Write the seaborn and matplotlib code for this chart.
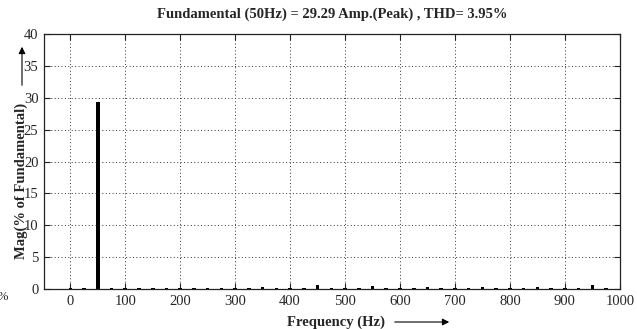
import matplotlib
matplotlib.use("Agg")
import matplotlib.pyplot as plt
import seaborn as sns
import pandas as pd

freqs = [0, 25, 50, 75, 100, 125, 150, 175, 200, 225, 250, 275, 300, 325, 350, 375,
         400, 425, 450, 475, 500, 525, 550, 575, 600, 625, 650, 675, 700, 725, 750,
         775, 800, 825, 850, 875, 900, 925, 950, 975]
mags = [0.1, 0.1, 29.29, 0.1, 0.1, 0.1, 0.1, 0.1, 0.1, 0.1, 0.15, 0.1, 0.1, 0.1, 0.35, 0.1,
        0.1, 0.1, 0.6, 0.1, 0.1, 0.1, 0.5, 0.1, 0.1, 0.1, 0.3, 0.15, 0.1, 0.1, 0.25,
        0.1, 0.1, 0.1, 0.25, 0.1, 0.1, 0.1, 0.55, 0.1]
xticks = [0, 100, 200, 300, 400, 500, 600, 700, 800, 900, 1000]
yticks = [0, 5, 10, 15, 20, 25, 30, 35, 40]
title = "Fundamental (50Hz) = 29.29 Amp.(Peak) , THD= 3.95%"

sns.set_theme(style="white")
plt.rcParams['font.family'] = ['Liberation Serif', 'DejaVu Serif']

df = pd.DataFrame({"freq": freqs, "mag": mags})
fig = plt.figure(figsize=(6.37, 3.29), dpi=100)
ax = fig.add_axes([0.069, 0.1216, 0.904, 0.775])
sns.barplot(data=df, x="freq", y="mag", native_scale=True, width=0.26,
            color="black", saturation=1, ax=ax, edgecolor="black", linewidth=0)
ax.set_xlim(-48, 1000)
ax.set_ylim(0, 40)
ax.set_xticks(xticks)
ax.set_yticks(yticks)
ax.set_xticklabels([str(t) for t in xticks], fontsize=10.5)
ax.set_yticklabels([str(t) for t in yticks], fontsize=10.5)
ax.grid(True, linestyle=(0, (1, 2.5)), color="#333333", linewidth=0.7)
ax.set_axisbelow(True)
ax.tick_params(direction="in", length=4, top=True, right=True, bottom=True, left=True,
               width=0.8, color="#222222", pad=4)
for s in ax.spines.values():
    s.set_color("#222222")
    s.set_linewidth(0.9)
ax.set_xlabel("")
ax.set_ylabel("")

fig.text(0.522, 0.957, title, ha="center", va="center", fontsize=10.5, fontweight="bold")
fig.text(0.527, 0.022, "Frequency (Hz)", ha="center", va="center", fontsize=10.5, fontweight="bold")
fig.text(0.034, 0.45, "Mag(% of Fundamental)", ha="center", va="center", rotation=90,
         fontsize=10.5, fontweight="bold")
fig.text(-0.004, 0.098, "%", ha="left", va="center", fontsize=9)
# arrows
fig.add_artist(matplotlib.patches.FancyArrowPatch((392/637, 1 - 322/329), (452/637, 1 - 322/329),
               transform=fig.transFigure, arrowstyle="-|>", mutation_scale=10, color="black", lw=0.8))
fig.add_artist(matplotlib.patches.FancyArrowPatch((22/637, 1 - 88/329), (22/637, 1 - 44/329),
               transform=fig.transFigure, arrowstyle="-|>", mutation_scale=10, color="black", lw=0.8))

fig.savefig("out.png", dpi=100)
